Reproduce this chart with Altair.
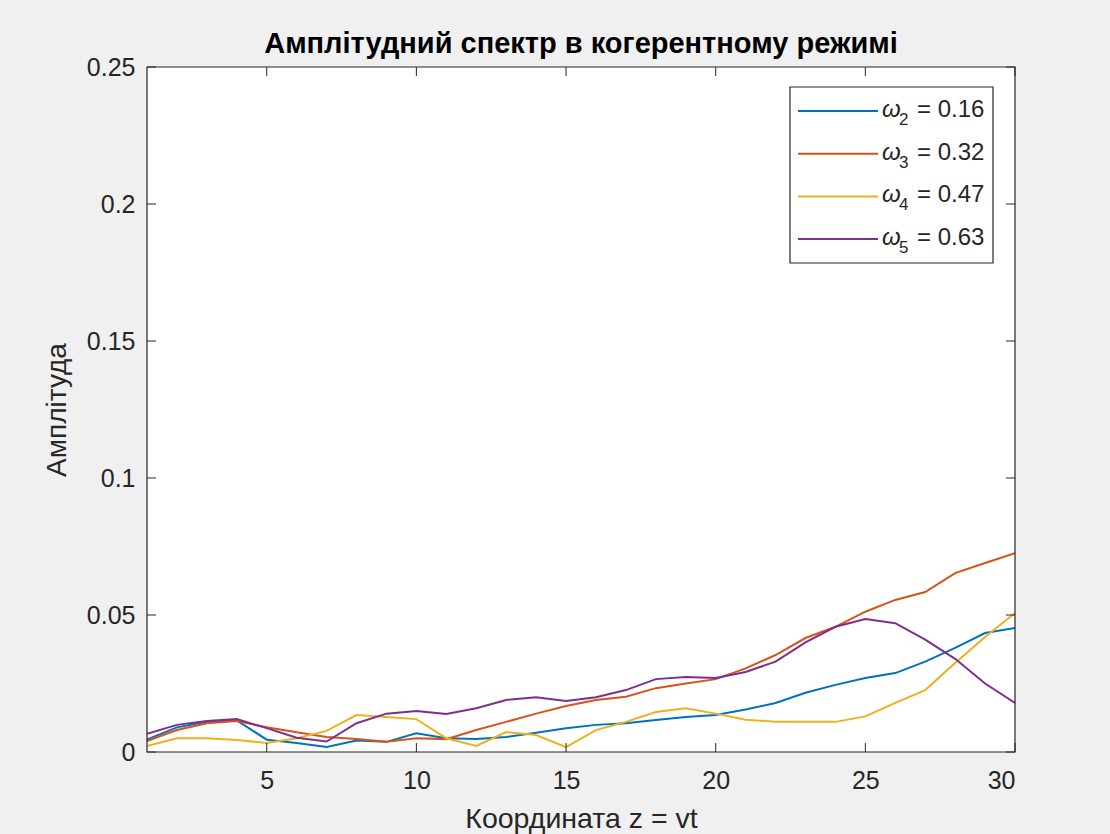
import altair as alt
import pandas as pd

# Coordinate z = vt
z = list(range(1, 31))

# Amplitude of each spectral component along z
amp_w2 = [0.0045, 0.009, 0.011, 0.0115, 0.0045, 0.0033, 0.0018, 0.0042, 0.0037, 0.0068,
          0.005, 0.0047, 0.0055, 0.007, 0.0087, 0.0099, 0.0105, 0.0117, 0.0128, 0.0135,
          0.0155, 0.0179, 0.0216, 0.0245, 0.027, 0.0288, 0.033, 0.038, 0.0434, 0.0453]
amp_w3 = [0.004, 0.008, 0.0105, 0.0113, 0.009, 0.0072, 0.0055, 0.0047, 0.0037, 0.005,
          0.0047, 0.008, 0.011, 0.014, 0.0168, 0.019, 0.0202, 0.0233, 0.025, 0.0266,
          0.0305, 0.0354, 0.0416, 0.0457, 0.0512, 0.0555, 0.0584, 0.0653, 0.069, 0.0726]
amp_w4 = [0.0022, 0.005, 0.005, 0.0044, 0.0033, 0.005, 0.0077, 0.0135, 0.0128, 0.012,
          0.005, 0.0022, 0.0073, 0.0062, 0.0018, 0.008, 0.011, 0.0146, 0.016, 0.014,
          0.0118, 0.011, 0.011, 0.011, 0.013, 0.0179, 0.0226, 0.0325, 0.042, 0.0507]
amp_w5 = [0.0066, 0.0099, 0.0113, 0.012, 0.0087, 0.0052, 0.0038, 0.0105, 0.014, 0.015,
          0.0139, 0.016, 0.019, 0.020, 0.0186, 0.020, 0.0226, 0.0266, 0.0274, 0.027,
          0.0292, 0.033, 0.040, 0.0457, 0.0485, 0.047, 0.041, 0.034, 0.025, 0.0179]

omega_index = ["2", "3", "4", "5"]
omega_value = ["0.16", "0.32", "0.47", "0.63"]
series_colors = ["#0072BD", "#D95319", "#EDB120", "#7E2F8E"]

x_ticks = [5, 10, 15, 20, 25, 30]
y_ticks = [0, 0.05, 0.1, 0.15, 0.2, 0.25]

title_text = "Амплітудний спектр в когерентному режимі"
x_title = "Координата z = vt"
y_title = "Амплітуда"

W, H = 868, 685
INK = "#262626"
FONT = "Liberation Sans"
TICK = 9

series_names = [f"w{i}" for i in omega_index]
rows = []
for name, vals in zip(series_names, [amp_w2, amp_w3, amp_w4, amp_w5]):
    for zz, a in zip(z, vals):
        rows.append({"z": zz, "amp": a, "series": name})
df = pd.DataFrame(rows)

xscale = alt.Scale(domain=[1, 30], nice=False, zero=False)
yscale = alt.Scale(domain=[0, 0.25], nice=False)
one = pd.DataFrame({"k": [0]})

lines = alt.Chart(df).mark_line(strokeWidth=2, clip=True).encode(
    x=alt.X("z:Q", scale=xscale,
            axis=alt.Axis(values=x_ticks, tickSize=0, domain=False, grid=False,
                          labelFontSize=25, labelColor=INK, labelFont=FONT, labelPadding=16,
                          title=x_title, titleFont=FONT, titleFontSize=28.5, titleFontWeight="normal",
                          titleColor=INK, titleX=W / 2, titleY=75, titleBaseline="alphabetic")),
    y=alt.Y("amp:Q", scale=yscale,
            axis=alt.Axis(values=y_ticks, format=".2~f", tickSize=0, domain=False, grid=False,
                          labelFontSize=25, labelColor=INK, labelFont=FONT, labelPadding=12,
                          title=y_title, titleFont=FONT, titleFontSize=28, titleFontWeight="normal",
                          titleColor=INK, titleX=-90, titleY=H / 2, titleAngle=-90,
                          titleBaseline="middle", titleAlign="center")),
    color=alt.Color("series:N", scale=alt.Scale(domain=series_names, range=series_colors),
                    legend=None),
    order="z:Q",
)

# Inward tick marks on all four sides of the box
xt = pd.DataFrame({"z": x_ticks})
yt = pd.DataFrame({"amp": y_ticks})
tick_left = alt.Chart(yt).mark_rule(color=INK).encode(
    y=alt.Y("amp:Q", scale=yscale), x=alt.value(0), x2=alt.value(TICK))
tick_right = alt.Chart(yt).mark_rule(color=INK).encode(
    y=alt.Y("amp:Q", scale=yscale), x=alt.value(W - TICK), x2=alt.value(W))
tick_bottom = alt.Chart(xt).mark_rule(color=INK).encode(
    x=alt.X("z:Q", scale=xscale), y=alt.value(H - TICK), y2=alt.value(H))
tick_top = alt.Chart(xt).mark_rule(color=INK).encode(
    x=alt.X("z:Q", scale=xscale), y=alt.value(0), y2=alt.value(TICK))

box = alt.Chart(one).mark_rect(fillOpacity=0, stroke=INK, strokeWidth=1.2).encode(
    x=alt.value(0), x2=alt.value(W), y=alt.value(0), y2=alt.value(H))

title = alt.Chart(one).mark_text(
    font=FONT, fontSize=29, fontWeight="bold", color="black",
    align="center", baseline="alphabetic").encode(
    x=alt.value(W / 2), y=alt.value(-14), text=alt.value(title_text))

# Legend box
LX0, LX1, LY0, LY1 = 643, 846, 20, 196
legend_layers = [
    alt.Chart(one).mark_rect(fill="white", stroke=INK, strokeWidth=1.2).encode(
        x=alt.value(LX0), x2=alt.value(LX1), y=alt.value(LY0), y2=alt.value(LY1))
]
for i, (idx, val, col) in enumerate(zip(omega_index, omega_value, series_colors)):
    ry = 44 + 42.7 * i
    legend_layers.append(alt.Chart(one).mark_rule(color=col, strokeWidth=2).encode(
        x=alt.value(651), x2=alt.value(731), y=alt.value(ry)))
    legend_layers.append(alt.Chart(one).mark_text(
        font=FONT, fontSize=24, fontStyle="italic", color=INK, align="left",
        baseline="alphabetic").encode(
        x=alt.value(735), y=alt.value(ry + 6), text=alt.value("ω")))
    legend_layers.append(alt.Chart(one).mark_text(
        font=FONT, fontSize=17, color=INK, align="left", baseline="alphabetic").encode(
        x=alt.value(752), y=alt.value(ry + 14), text=alt.value(idx)))
    legend_layers.append(alt.Chart(one).mark_text(
        font=FONT, fontSize=24, color=INK, align="left", baseline="alphabetic").encode(
        x=alt.value(770), y=alt.value(ry + 6), text=alt.value("= " + val)))

chart = alt.layer(
    lines, tick_left, tick_right, tick_bottom, tick_top, box, title,
    *legend_layers
).properties(
    width=W, height=H,
    autosize=alt.AutoSizeParams(type="none"),
    padding={"left": 147, "top": 67, "right": 95, "bottom": 82},
).configure(background="#f0f0f0").configure_view(strokeWidth=0, fill="white")

chart.save("out.html", embed_options={"renderer": "svg", "actions": False})
